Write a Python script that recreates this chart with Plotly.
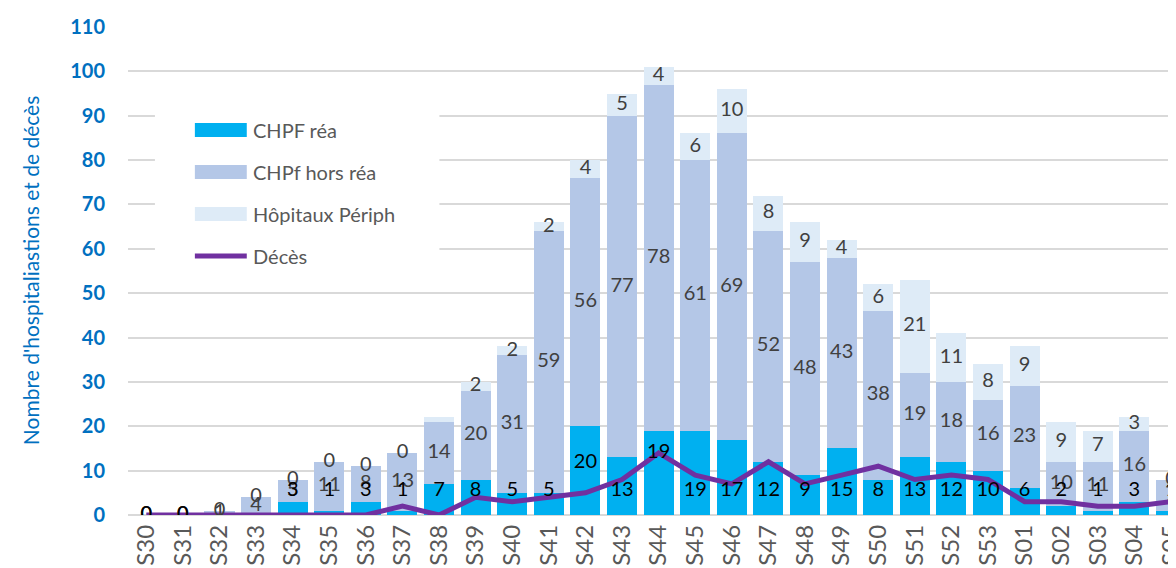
import plotly.graph_objects as go

# ---------------- data ----------------
weeks = ["S30", "S31", "S32", "S33", "S34", "S35", "S36", "S37", "S38", "S39",
         "S40", "S41", "S42", "S43", "S44", "S45", "S46", "S47", "S48", "S49",
         "S50", "S51", "S52", "S53", "S01", "S02", "S03", "S04", "S05"]
chpf_rea = [0, 0, 0, 0, 3, 1, 3, 1, 7, 8, 5, 5, 20, 13, 19, 19, 17, 12, 9, 15,
            8, 13, 12, 10, 6, 2, 1, 3, 1]
chpf_hors_rea = [0, 0, 1, 4, 5, 11, 8, 13, 14, 20, 31, 59, 56, 77, 78, 61, 69, 52, 48, 43,
                 38, 19, 18, 16, 23, 10, 11, 16, 7]
hopitaux_periph = [0, 0, 0, 0, 0, 0, 0, 0, 1, 2, 2, 2, 4, 5, 4, 6, 10, 8, 9, 4,
                   6, 21, 11, 8, 9, 9, 7, 3, 0]
deces = [0, 0, 0, 0, 0, 0, 0, 2, 0, 4, 3, 4, 5, 8, 14, 9, 7, 12, 7, 9,
         11, 8, 9, 8, 3, 3, 2, 2, 3]
y_ticks = list(range(0, 111, 10))

series_names = ["CHPF réa", "CHPf hors réa", "Hôpitaux Périph", "Décès"]
y_title = "Nombre d'hospitaliastions et de décès"

# ---------------- styles ----------------
C_REA = "#00B0F0"
C_HORS = "#B4C7E7"
C_PERI = "#DEEBF7"
C_DEC = "#7030A0"
BLUE = "#0070C0"
FONT = "Lato"
LABEL_SIZE = 20

# label placement (Excel "inside base" for réa labels, a few moved by hand)
REA_LABEL_BASE = 5.4
rea_label_moved = {"S42": 11.7, "S44": 14}
peri_label_hidden = {"S38"}

# plot area in pixels
PL, PR, PT, PB = 120, 1176, 19, 507
W, H = 1176, 568


def px_x(x):
    return (x - PL) / (PR - PL)


def px_y(y):
    return (PB - y) / (PB - PT)


fig = go.Figure()

fig.add_trace(go.Bar(x=weeks, y=chpf_rea, name=series_names[0], marker_color=C_REA,
                     marker_line_width=0, hoverinfo="skip"))
fig.add_trace(go.Bar(x=weeks, y=chpf_hors_rea, name=series_names[1], marker_color=C_HORS,
                     marker_line_width=0, hoverinfo="skip"))
fig.add_trace(go.Bar(x=weeks, y=hopitaux_periph, name=series_names[2], marker_color=C_PERI,
                     marker_line_width=0, hoverinfo="skip"))
fig.add_trace(go.Scatter(x=weeks, y=deces, name=series_names[3], mode="lines",
                         line=dict(color=C_DEC, width=5), hoverinfo="skip"))

# data labels
hors_y = [r + h / 2 for r, h in zip(chpf_rea, chpf_hors_rea)]
peri_y = [r + h + p / 2 for r, h, p in zip(chpf_rea, chpf_hors_rea, hopitaux_periph)]
rea_y, rea_txt = [], []
for w, r, h, p in zip(weeks, chpf_rea, chpf_hors_rea, hopitaux_periph):
    if w in rea_label_moved:
        rea_y.append(rea_label_moved[w])
    elif r > 0:
        rea_y.append(REA_LABEL_BASE)
    else:
        rea_y.append(0)
    rea_txt.append(str(r) if (r > 0 or r + h + p == 0) else "")
peri_txt = ["" if w in peri_label_hidden else str(p) for w, p in zip(weeks, hopitaux_periph)]

fig.add_trace(go.Scatter(x=weeks, y=hors_y, text=[str(v) for v in chpf_hors_rea], mode="text",
                         textfont=dict(family=FONT, size=LABEL_SIZE, color="#404040"),
                         hoverinfo="skip", showlegend=False))
fig.add_trace(go.Scatter(x=weeks, y=peri_y, text=peri_txt, mode="text",
                         textfont=dict(family=FONT, size=LABEL_SIZE, color="#404040"),
                         hoverinfo="skip", showlegend=False))
fig.add_trace(go.Scatter(x=weeks, y=rea_y, text=rea_txt, mode="text",
                         textfont=dict(family=FONT, size=LABEL_SIZE, color="#000000"),
                         hoverinfo="skip", showlegend=False))

# custom legend (wide swatches, white box hiding gridlines)
shapes = [dict(type="rect", xref="paper", yref="paper", x0=px_x(147), x1=px_x(432),
               y0=px_y(272), y1=px_y(78), fillcolor="white", line_width=0, layer="above")]
annotations = []
leg_rows = [(122, C_REA), (164, C_HORS), (206, C_PERI)]
for (yc, col), name in zip(leg_rows, series_names[:3]):
    shapes.append(dict(type="rect", xref="paper", yref="paper", x0=px_x(187), x1=px_x(239),
                       y0=px_y(yc + 7), y1=px_y(yc - 7), fillcolor=col, line_width=0,
                       layer="above"))
shapes.append(dict(type="line", xref="paper", yref="paper", x0=px_x(187), x1=px_x(239),
                   y0=px_y(248), y1=px_y(248), line=dict(color=C_DEC, width=5),
                   layer="above"))
for yc, name in zip([122, 164, 206, 248], series_names):
    annotations.append(dict(xref="paper", yref="paper", x=px_x(243), y=px_y(yc), text=name,
                            showarrow=False, xanchor="left", yanchor="middle",
                            font=dict(family=FONT, size=20, color="#595959")))
annotations.append(dict(xref="paper", yref="paper", x=px_x(22), y=0.5, text=y_title,
                        textangle=-90, showarrow=False, xanchor="center", yanchor="middle",
                        font=dict(family=FONT, size=21, color=BLUE)))

fig.update_layout(
    width=W, height=H,
    margin=dict(l=PL, r=W - PR, t=PT, b=H - PB),
    barmode="stack", bargap=0.18,
    plot_bgcolor="white", paper_bgcolor="white",
    showlegend=False,
    shapes=shapes, annotations=annotations,
    font=dict(family=FONT),
)
fig.update_xaxes(type="category", range=[-0.5, 28.3], tickangle=-90,
                 tickfont=dict(family=FONT, size=24, color="#595959"),
                 showgrid=False, showline=False, ticks="", ticklabelstandoff=4)
fig.update_yaxes(range=[0, 110], tickvals=y_ticks, showgrid=True, gridcolor="#D9D9D9",
                 gridwidth=1.5, zeroline=True, zerolinecolor="#D9D9D9", zerolinewidth=1.5,
                 tickfont=dict(family=FONT, size=20, color=BLUE, weight="bold"),
                 ticks="", ticklabelstandoff=22)

fig.write_html("out.html")
